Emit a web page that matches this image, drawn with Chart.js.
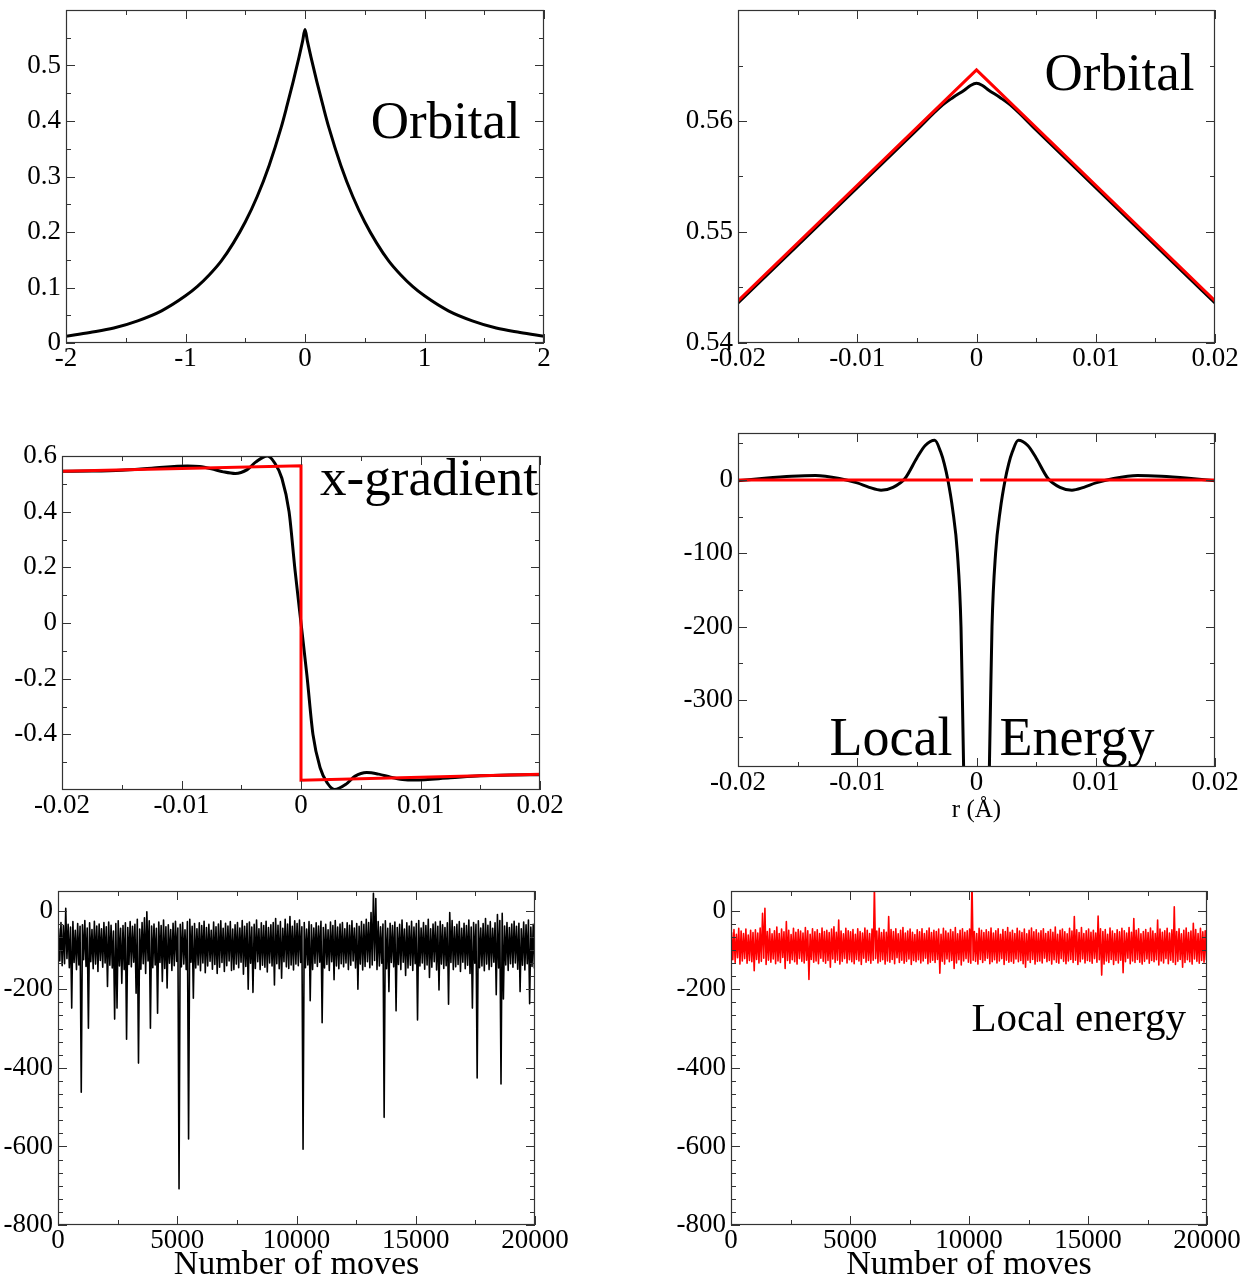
<!DOCTYPE html>
<html>
<head>
<meta charset="utf-8">
<script src="https://cdn.jsdelivr.net/npm/chart.js@4.4.1/dist/chart.umd.min.js"></script>
<style>
  body { margin: 0; background: #fff; width: 1242px; height: 1279px; overflow: hidden; position: relative; }
  canvas { position: absolute; }
</style>
</head>
<body>
<canvas id="orbital"></canvas>
<canvas id="orbitalZoom"></canvas>
<canvas id="gradient"></canvas>
<canvas id="localEnergy"></canvas>
<canvas id="walkBefore"></canvas>
<canvas id="walkAfter"></canvas>
<script>
// ---- data ----

// orbital, -2..2
const orbX = [-2, -1.8, -1.6, -1.4, -1.2, -1, -0.9, -0.8, -0.7, -0.6, -0.5, -0.4, -0.3, -0.2, -0.15, -0.1, -0.05, -0.02, 0,
  0.02, 0.05, 0.1, 0.15, 0.2, 0.3, 0.4, 0.5, 0.6, 0.7, 0.8, 0.9, 1, 1.2, 1.4, 1.6, 1.8, 2];
const orbY = [0.012, 0.019, 0.027, 0.040, 0.058, 0.085, 0.102, 0.123, 0.148, 0.180, 0.218, 0.264, 0.320, 0.388, 0.428, 0.470, 0.515, 0.544, 0.565,
  0.544, 0.515, 0.470, 0.428, 0.388, 0.320, 0.264, 0.218, 0.180, 0.148, 0.123, 0.102, 0.085, 0.058, 0.040, 0.027, 0.019, 0.012];

// orbital near the nucleus
const zoomX = [-0.02, -0.015, -0.01, -0.005, -0.003, -0.002, -0.001, -0.0005, 0, 0.0005, 0.001, 0.002, 0.003, 0.005, 0.01, 0.015, 0.02];
const zoomFit = [0.5436, 0.5488, 0.5540, 0.5592, 0.5613, 0.5621, 0.5628, 0.5632, 0.5634, 0.5632, 0.5628, 0.5621, 0.5613, 0.5592, 0.5540, 0.5488, 0.5436];
const cuspX = [-0.02, 0, 0.02];
const cuspY = [0.5438, 0.5646, 0.5438];

// x-gradient
const gradX = [-0.02, -0.0175, -0.015, -0.0125, -0.0095, -0.0085, -0.0075, -0.0065, -0.0055, -0.0045, -0.0038, -0.0028, -0.0022, -0.0016, -0.001, -0.0005, 0,
  0.0005, 0.001, 0.0016, 0.0022, 0.0028, 0.0038, 0.0045, 0.0055, 0.0065, 0.0075, 0.0085, 0.0095, 0.0125, 0.015, 0.0175, 0.02];
const gradY = [0.545, 0.546, 0.549, 0.556, 0.564, 0.562, 0.554, 0.543, 0.537, 0.551, 0.578, 0.600, 0.575, 0.52, 0.40, 0.19, 0,
  -0.19, -0.40, -0.52, -0.575, -0.598, -0.578, -0.551, -0.537, -0.543, -0.554, -0.562, -0.564, -0.556, -0.549, -0.546, -0.545];
const stepX = [-0.02, 0, 0, 0.02];
const stepY = [0.545, 0.565, -0.565, -0.543];

// local energy along r
const elocX = [-0.02, -0.018, -0.0155, -0.0135, -0.0115, -0.01, -0.009, -0.008, -0.007, -0.006, -0.005, -0.0043, -0.0035, -0.003, -0.0027, -0.0024, -0.002, -0.0016, -0.0013, -0.00118, -0.00105,
  0, 0.00105, 0.00118, 0.0013, 0.0016, 0.002, 0.0024, 0.0027, 0.003, 0.0035, 0.0043, 0.005, 0.006, 0.007, 0.008, 0.009, 0.01, 0.0115, 0.0135, 0.0155, 0.018, 0.02];
const elocY = [-1, 2, 5, 6, 2, -4, -10, -14, -10, 2, 30, 47, 54, 38, 22, 0, -40, -100, -200, -300, -420,
  null, -420, -300, -200, -100, -40, 0, 22, 38, 54, 47, 30, 2, -10, -14, -10, -4, 2, 6, 5, 2, -1];
const exactX = [-0.02, -0.0003, 0, 0.0003, 0.02];
const exactY = [0, 0, null, 0, 0];

// random walk local energy: highest and lowest value in each block of 100 moves
const MOVES_PER_BLOCK = 100;
const walkHi = [
  -45, -30, -38, 6, -35, -42, -28, -50, -33, -40,
  -36, -25, -44, -31, -48, -27, -39, -34, -46, -30,
  -41, -29, -37, -52, -33, -26, -45, -38, -31, -43,
  -28, -40, -35, -22, -47, -30, -18, -3, -26, -39,
  -34, -45, -29, -38, -24, -41, -36, -48, -32, -27,
  -44, -35, -30, -49, -28, -22, -40, -33, -46, -31,
  -38, -27, -43, -35, -50, -29, -41, -34, -26, -45,
  -32, -39, -28, -47, -36, -30, -44, -25, -40, -33,
  -29, -42, -35, -24, -46, -31, -38, -27, -43, -36,
  -30, -20, -37, -28, -45, -22, -34, -15, -40, -26,
  -33, -24, -41, -30, -47, -28, -36, -44, -31, -39,
  -27, -43, -35, -49, -29, -38, -25, -42, -34, -30,
  -46, -31, -37, -26, -44, -33, -40, -28, -35, -22,
  -30, -5, 44, 31, -28, -41, -34, -26, -45, -32,
  -38, -29, -43, -35, -24, -47, -31, -39, -27, -42,
  -33, -25, -44, -30, -38, -22, -46, -34, -29, -40,
  -27, -36, -43, -31, -5, -25, -41, -35, -28, -45,
  -32, -38, -24, -42, -30, -35, -26, -44, -33, -20,
  -37, -28, -45, -31, -10, -25, -7, -39, -30, -43,
  -34, -27, -40, -32, -46, -29, -36, -24, -42, -35];
const walkLo = [
  -128, -140, -135, -122, -145, -248, -132, -150, -138, -462,
  -125, -142, -299, -130, -148, -136, -155, -127, -144, -133,
  -193, -139, -146, -276, -248, -141, -185, -150, -327, -137,
  -143, -131, -210, -388, -149, -135, -160, -128, -299, -145,
  -138, -261, -132, -180, -147, -197, -134, -152, -140, -129,
  -708, -143, -136, -150, -581, -131, -223, -146, -138, -153,
  -133, -158, -141, -129, -149, -137, -160, -144, -132, -155,
  -140, -128, -152, -150, -136, -145, -131, -162, -142, -200,
  -134, -208, -147, -130, -150, -139, -144, -156, -133, -141,
  -189, -135, -148, -172, -130, -143, -147, -138, -151, -136,
  -140, -132, -607, -145, -138, -229, -150, -134, -142, -131,
  -285, -146, -137, -152, -130, -176, -141, -148, -135, -143,
  -133, -150, -139, -128, -146, -200, -136, -151, -142, -130,
  -145, -138, -127, -150, -141, -134, -526, -148, -206, -132,
  -143, -255, -137, -150, -131, -165, -146, -139, -152, -135,
  -278, -141, -133, -149, -138, -170, -144, -130, -151, -202,
  -136, -147, -140, -238, -132, -150, -143, -137, -155, -131,
  -148, -139, -160, -248, -134, -426, -145, -141, -153, -136,
  -150, -142, -131, -214, -146, -441, -225, -138, -152, -135,
  -144, -133, -149, -206, -139, -151, -135, -237, -142, -147];
const cuspWalkHi = [
  -55, -48, -60, -45, -52, -58, -47, -62, -50, -56,
  -49, -57, -44, -7, 6, -53, -46, -59, -51, -42,
  -58, -47, -54, -28, -50, -61, -45, -55, -48, -52,
  -57, -43, -51, -60, -46, -54, -49, -58, -44, -53,
  -50, -56, -47, -41, -55, -24, -52, -59, -45, -51,
  -54, -48, -60, -46, -53, -57, -44, -50, -58, -47,
  60, -52, -45, -56, -49, -55, -15, -48, -53, -46,
  -59, -50, -43, -57, -52, -47, -55, -61, -49, -54,
  -46, -58, -51, -44, -56, -50, -53, -47, -60, -45,
  -52, -57, -48, -54, -43, -59, -50, -46, -55, -51,
  -47, 80, -53, -58, -45, -50, -56, -49, -54, -44,
  -57, -51, -46, -60, -48, -53, -43, -55, -50, -58,
  -45, -52, -56, -47, -59, -50, -44, -54, -49, -57,
  -51, -46, -58, -53, -48, -55, -42, -60, -50, -47,
  -54, -59, -45, -52, -15, -49, -56, -43, -58, -51,
  -47, -55, -50, -57, -14, -46, -53, -48, -60, -44,
  -52, -58, -49, -54, -45, -51, -57, -43, -55, -20,
  -50, -46, -59, -53, -48, -56, -44, -52, -58, -24,
  -47, -55, -51, -45, -57, -49, 10, -53, -46, -59,
  -50, -44, -56, -52, -32, -48, -58, -45, -54, -51];
const cuspWalkLo = [
  -125, -132, -120, -136, -128, -122, -134, -127, -130, -153,
  -124, -133, -129, -121, -137, -126, -131, -123, -135, -128,
  -132, -119, -147, -127, -134, -125, -130, -136, -122, -129,
  -133, -126, -175, -124, -131, -128, -135, -121, -129, -134,
  -127, -144, -123, -132, -126, -136, -129, -122, -133, -125,
  -130, -135, -124, -128, -137, -121, -131, -127, -134, -126,
  -122, -133, -129, -125, -136, -128, -131, -124, -135, -120,
  -132, -126, -134, -129, -123, -137, -127, -130, -125, -133,
  -128, -121, -135, -131, -126, -132, -124, -159, -129, -136,
  -123, -130, -127, -147, -133, -125, -138, -128, -122, -131,
  -134, -126, -129, -136, -124, -132, -127, -121, -135, -130,
  -125, -133, -128, -122, -137, -126, -131, -129, -134, -123,
  -130, -127, -135, -144, -126, -132, -124, -136, -129, -128,
  -133, -121, -130, -127, -136, -125, -131, -134, -122, -129,
  -135, -128, -124, -132, -126, -137, -130, -123, -133, -127,
  -129, -134, -122, -131, -125, -164, -136, -128, -132, -124,
  -137, -127, -133, -126, -158, -130, -121, -135, -128, -132,
  -124, -131, -136, -129, -123, -134, -127, -130, -125, -138,
  -128, -133, -122, -135, -126, -131, -137, -129, -124, -144,
  -132, -125, -130, -136, -123, -129, -134, -127, -131, -126];

// tick labels
const orbTicksX = [-2, -1, 0, 1, 2];
const orbTicksY = [0, 0.1, 0.2, 0.3, 0.4, 0.5];
const nearTicksX = [-0.02, -0.01, 0, 0.01, 0.02];
const zoomTicksY = [0.54, 0.55, 0.56];
const gradTicksY = [-0.4, -0.2, 0, 0.2, 0.4, 0.6];
const elocTicksY = [-300, -200, -100, 0];
const movesTicks = [0, 5000, 10000, 15000, 20000];
const walkTicksY = [-800, -600, -400, -200, 0];

// ---- layout helpers ----
const AXW = 90, AXH = 70, PADT = 20, PADR = 45;
const SERIF = '"Liberation Serif", "Times New Roman", serif';

const pts = (xs, ys) => xs.map((x, i) => ({ x, y: ys[i] }));
const band = (hi, lo) => {
  const out = [];
  hi.forEach((h, i) => {
    out.push({ x: i * MOVES_PER_BLOCK + MOVES_PER_BLOCK * 0.25, y: h });
    out.push({ x: i * MOVES_PER_BLOCK + MOVES_PER_BLOCK * 0.75, y: lo[i] });
  });
  return out;
};
const range = (a, b, step) => {
  const out = [];
  for (let v = a; v <= b + step * 1e-6; v += step) out.push(+v.toFixed(6));
  return out;
};

// frame with inward ticks on all four sides, plus text notes
const framePlugin = {
  id: 'frame',
  afterDraw(chart, args, o) {
    const { ctx, chartArea: a } = chart;
    const sx = chart.scales.x, sy = chart.scales.y;
    ctx.save();
    ctx.strokeStyle = '#333';
    ctx.lineWidth = 1;
    ctx.beginPath();
    const xMarks = (vals, len) => vals.forEach(v => {
      const p = Math.round(sx.getPixelForValue(v)) + 0.5;
      ctx.moveTo(p, a.top); ctx.lineTo(p, a.top + len);
      ctx.moveTo(p, a.bottom); ctx.lineTo(p, a.bottom - len);
    });
    const yMarks = (vals, len) => vals.forEach(v => {
      const p = Math.round(sy.getPixelForValue(v)) + 0.5;
      ctx.moveTo(a.left, p); ctx.lineTo(a.left + len, p);
      ctx.moveTo(a.right, p); ctx.lineTo(a.right - len, p);
    });
    xMarks(sx.ticks.map(t => t.value), 9);
    yMarks(sy.ticks.map(t => t.value), 9);
    xMarks(o.xMinor || [], 5);
    yMarks(o.yMinor || [], 5);
    ctx.stroke();
    ctx.lineWidth = 1.2;
    ctx.strokeRect(Math.round(a.left) + 0.5, Math.round(a.top) + 0.5, Math.round(a.right - a.left) - 1, Math.round(a.bottom - a.top) - 1);

    ctx.fillStyle = '#000';
    ctx.textBaseline = 'alphabetic';
    (o.notes || []).forEach(n => {
      ctx.font = n.size + 'px ' + SERIF;
      ctx.textAlign = n.align || 'left';
      const px = sx.getPixelForValue(n.x);
      const py = n.below != null ? a.bottom + n.below : sy.getPixelForValue(n.y);
      ctx.fillText(n.text, px, py);
    });
    ctx.restore();
  }
};

function axis(min, max, ticks, horizontal) {
  return {
    type: 'linear', min, max,
    afterBuildTicks: s => { s.ticks = ticks.map(value => ({ value })); },
    afterFit: s => { if (horizontal) s.height = AXH; else s.width = AXW; },
    grid: { display: false, drawTicks: false },
    border: { display: false },
    ticks: {
      autoSkip: false, maxRotation: 0, minRotation: 0,
      padding: horizontal ? 2 : 5,
      color: '#000',
      font: { family: SERIF, size: 27, lineHeight: 1 },
      callback: v => String(v)
    }
  };
}

function panel(id, box, xr, yr, xTicks, yTicks, datasets, extra) {
  const cv = document.getElementById(id);
  const w = AXW + (box.r - box.l) + PADR;
  const h = PADT + (box.b - box.t) + AXH;
  cv.width = w; cv.height = h;
  cv.style.left = (box.l - AXW) + 'px';
  cv.style.top = (box.t - PADT) + 'px';
  cv.style.width = w + 'px';
  cv.style.height = h + 'px';
  return new Chart(cv, {
    type: 'line',
    data: { datasets },
    options: {
      responsive: false,
      animation: false,
      devicePixelRatio: 1,
      layout: { padding: { top: PADT, right: PADR, left: 0, bottom: 0 } },
      scales: {
        x: axis(xr[0], xr[1], xTicks, true),
        y: axis(yr[0], yr[1], yTicks, false)
      },
      plugins: { legend: { display: false }, tooltip: { enabled: false }, frame: extra }
    },
    plugins: [framePlugin]
  });
}

const curve = (data, color, smooth) => ({
  data, borderColor: color, borderWidth: 3, pointRadius: 0,
  tension: 0, cubicInterpolationMode: smooth ? 'monotone' : 'default',
  spanGaps: false, fill: false
});
const noise = (data, color) => ({
  data, borderColor: color, borderWidth: 1.6, pointRadius: 0, tension: 0,
  borderJoinStyle: 'round', fill: false
});

const nearMinor = [-0.015, -0.005, 0.005, 0.015];
const walkMinorY = [];
for (let m = -800; m < 0; m += 200) walkMinorY.push(...[1, 2, 3, 4, 5].map(k => +(m + k * 200 / 6).toFixed(3)));

// top-left: orbital
panel('orbital', { l: 66, t: 10, r: 544, b: 343 }, [-2, 2], [0, 0.6], orbTicksX, orbTicksY,
  [curve(pts(orbX, orbY), '#000', true)],
  { xMinor: [-1.5, -0.5, 0.5, 1.5], yMinor: range(0.05, 0.55, 0.1),
    notes: [{ text: 'Orbital', x: 0.55, y: 0.37, size: 53 }] });

// top-right: orbital near nucleus
panel('orbitalZoom', { l: 738, t: 10, r: 1215, b: 343 }, [-0.02, 0.02], [0.54, 0.57], nearTicksX, zoomTicksY,
  [curve(pts(cuspX, cuspY), '#ff0000', false), curve(pts(zoomX, zoomFit), '#000', true)],
  { xMinor: nearMinor, yMinor: [0.545, 0.555, 0.565],
    notes: [{ text: 'Orbital', x: 0.0057, y: 0.5628, size: 53 }] });

// middle-left: x-gradient
panel('gradient', { l: 62, t: 456, r: 540, b: 790 }, [-0.02, 0.02], [-0.6, 0.6], nearTicksX, gradTicksY,
  [curve(pts(stepX, stepY), '#ff0000', false), curve(pts(gradX, gradY), '#000', true)],
  { xMinor: nearMinor, yMinor: [-0.5, -0.3, -0.1, 0.1, 0.3, 0.5],
    notes: [{ text: 'x-gradient', x: 0.0016, y: 0.46, size: 53 }] });

// middle-right: local energy
panel('localEnergy', { l: 738, t: 433, r: 1215, b: 767 }, [-0.02, 0.02], [-391, 64], nearTicksX, elocTicksY,
  [curve(pts(exactX, exactY), '#ff0000', false), curve(pts(elocX, elocY), '#000', true)],
  { xMinor: nearMinor, yMinor: [-350, -250, -150, -50, 50],
    notes: [
      { text: 'Local', x: -0.01233, y: -375, size: 54 },
      { text: 'Energy', x: 0.00193, y: -375, size: 54 },
      { text: 'r (\u00c5)', x: 0, below: 50, size: 25, align: 'center' }
    ] });

// bottom-left: walk with the plain orbital
panel('walkBefore', { l: 58, t: 891, r: 535, b: 1225 }, [0, 20000], [-800, 50], movesTicks, walkTicksY,
  [noise(band(walkHi, walkLo), '#000')],
  { xMinor: [2500, 7500, 12500, 17500], yMinor: walkMinorY,
    notes: [{ text: 'Number of moves', x: 10000, below: 49, size: 34, align: 'center' }] });

// bottom-right: walk with the cusp-corrected orbital
panel('walkAfter', { l: 731, t: 891, r: 1207, b: 1225 }, [0, 20000], [-800, 50], movesTicks, walkTicksY,
  [noise(band(cuspWalkHi, cuspWalkLo), '#ff0000')],
  { xMinor: [2500, 7500, 12500, 17500], yMinor: walkMinorY,
    notes: [
      { text: 'Local energy', x: 10105, y: -307, size: 41 },
      { text: 'Number of moves', x: 10000, below: 49, size: 34, align: 'center' }
    ] });
</script>
</body>
</html>
